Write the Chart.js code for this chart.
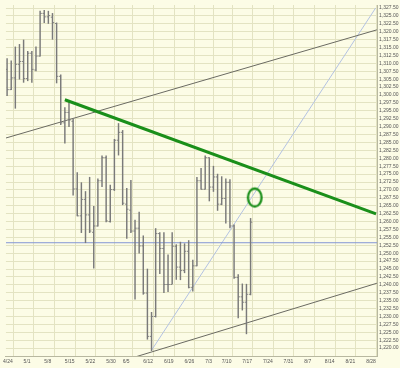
<!DOCTYPE html>
<html>
<head>
<meta charset="utf-8">
<script src="https://cdn.jsdelivr.net/npm/chart.js@4.4.1/dist/chart.umd.min.js"></script>
<style>
  html, body { margin: 0; padding: 0; background: #fcfce6; }
  #wrap { width: 400px; height: 368px; }
  canvas { display: block; background: #fcfce6; }
</style>
</head>
<body>
<div id="wrap"><canvas id="chart" width="400" height="368"></canvas></div>
<script>
// trading days from 4/24 (index 0) to 7/19 (index 60)
const opens  = [1311.3, 1308.1, 1301.7, 1305.4, 1309.7, 1310.6, 1305.2, 1313.2, 1307.9, 1312.3,
                1325.8, 1324.7, 1324.6, 1322.6, 1305.9, 1291.2, 1294.5, 1291.7, 1270.3, 1261.8,
                1267.0, 1262.1, 1256.6, 1258.6, 1272.9, 1280.2, 1260.0, 1270.1, 1285.7, 1288.2,
                1265.5, 1263.6, 1257.0, 1257.9, 1252.3, 1237.4, 1223.7, 1230.0, 1256.2, 1251.5,
                1240.1, 1240.1, 1252.2, 1245.6, 1244.5, 1250.6, 1239.2, 1246.0, 1272.9, 1270.2,
                1280.2, 1270.9, 1274.1, 1265.5, 1267.3, 1272.4, 1258.6, 1242.3, 1236.2, 1234.5,
                1237.0];
const highs  = [1311.3, 1311.5, 1310.8, 1315.2, 1316.0, 1317.4, 1313.8, 1313.8, 1315.2, 1326.5,
                1326.8, 1326.5, 1325.8, 1322.8, 1306.4, 1296.0, 1297.9, 1292.5, 1275.5, 1272.3,
                1269.5, 1274.0, 1264.8, 1273.5, 1280.8, 1280.8, 1271.5, 1286.0, 1291.0, 1288.8,
                1270.5, 1273.0, 1260.5, 1263.0, 1255.5, 1245.0, 1231.3, 1257.8, 1256.5, 1256.5,
                1249.5, 1256.5, 1252.7, 1253.5, 1253.0, 1254.0, 1247.8, 1274.0, 1276.8, 1280.8,
                1280.2, 1277.5, 1275.0, 1274.2, 1273.5, 1273.3, 1259.0, 1243.2, 1240.3, 1240.2,
                1261.0];
const lows   = [1303.8, 1299.8, 1301.7, 1295.8, 1305.0, 1304.0, 1304.5, 1304.0, 1307.6, 1312.3,
                1322.9, 1322.6, 1317.6, 1303.8, 1290.6, 1284.8, 1290.0, 1268.3, 1261.8, 1256.5,
                1253.3, 1256.5, 1245.3, 1258.5, 1271.0, 1259.9, 1259.8, 1269.8, 1281.0, 1265.3,
                1254.7, 1256.5, 1235.5, 1250.0, 1237.0, 1222.8, 1219.2, 1229.8, 1243.5, 1237.5,
                1237.8, 1240.3, 1241.7, 1241.6, 1243.8, 1239.0, 1238.0, 1246.0, 1270.2, 1270.2,
                1266.5, 1269.5, 1263.5, 1265.3, 1259.5, 1258.0, 1242.0, 1229.5, 1232.0, 1224.5,
                1236.8];
const closes = [1308.1, 1301.7, 1305.4, 1309.7, 1310.6, 1305.2, 1313.2, 1308.1, 1312.3, 1325.8,
                1324.7, 1325.1, 1322.9, 1305.9, 1291.2, 1294.5, 1292.1, 1270.3, 1261.8, 1267.0,
                1262.1, 1257.0, 1258.6, 1272.9, 1280.2, 1260.2, 1270.1, 1285.7, 1288.2, 1265.8,
                1263.9, 1257.0, 1257.9, 1252.3, 1237.4, 1223.7, 1230.0, 1256.2, 1251.5, 1240.1,
                1240.1, 1252.2, 1245.6, 1244.5, 1250.6, 1239.2, 1246.0, 1272.9, 1270.2, 1280.2,
                1270.9, 1274.1, 1265.5, 1267.3, 1272.4, 1258.6, 1242.3, 1236.2, 1234.5, 1237.0,
                1259.8];

// week labels on the date axis (trading-day index)
const xTickIdx    = [0, 5, 10, 15, 20, 25, 29, 34, 39, 44, 49, 53, 58, 63, 68, 73, 78, 83, 88];
const xTickLabels = ['4/24', '5/1', '5/8', '5/15', '5/22', '5/30', '6/5', '6/12', '6/19', '6/26',
                     '7/3', '7/10', '7/17', '7/24', '7/31', '8/7', '8/14', '8/21', '8/28'];

// drawn lines as [index, price] end points
const greenX = [15, 90.4],   greenY = [1298.5, 1262.4];
const upperX = [0.7, 90.6],  upperY = [1286.4, 1320.6];
const lowerX = [31.3, 90.6], lowerY = [1216.9, 1240.5];
const diagX  = [36, 90.3],   diagY  = [1219.3, 1327.5];
const flatX  = [0, 91],      flatY  = [1253.3, 1253.3];
const circleX = [61.0], circleY = [1267.6];

const X_MIN = 0.72, X_MAX = 90.63;
const Y_MIN = 1217.5, Y_MAX = 1328.45;
const yTicks = [];
for (let v = 1220; v <= 1327.5; v += 2.5) yTicks.push(v);

const BAR = '#7a7a7a';
const pts = (xs, ys) => xs.map((x, i) => ({ x, y: ys[i] }));

function ellipseStyle() {
  const c = document.createElement('canvas');
  c.width = 20; c.height = 24;
  const g = c.getContext('2d');
  g.strokeStyle = '#1a8f1a';
  g.lineWidth = 2.3;
  g.beginPath();
  g.ellipse(10, 12, 6.8, 9, 0, 0, Math.PI * 2);
  g.stroke();
  return c;
}

const lineSet = (data, color, width, order) => ({
  type: 'line', data, borderColor: color, borderWidth: width,
  pointRadius: 0, fill: false, tension: 0, order
});

new Chart(document.getElementById('chart'), {
  type: 'bar',
  data: {
    datasets: [
      {
        type: 'bar',
        data: highs.map((h, i) => ({ x: i, y: [lows[i], h] })),
        backgroundColor: BAR, borderWidth: 0, barThickness: 0.8, order: 3
      },
      {
        type: 'scatter',
        data: opens.map((o, i) => ({ x: i - 0.2, y: o })),
        pointStyle: 'line', pointRadius: 0.9, borderColor: BAR, borderWidth: 0.9, order: 3
      },
      {
        type: 'scatter',
        data: closes.map((c, i) => ({ x: i + 0.2, y: c })),
        pointStyle: 'line', pointRadius: 0.9, borderColor: BAR, borderWidth: 0.9, order: 3
      },
      lineSet(pts(flatX, flatY), '#8395d6', 1, 5),
      lineSet(pts(diagX, diagY), '#b3c2e2', 1, 5),
      lineSet(pts(upperX, upperY), '#6a6a62', 1, 4),
      lineSet(pts(lowerX, lowerY), '#6a6a62', 1, 4),
      lineSet(pts(greenX, greenY), '#1a8f1a', 3, 1),
      {
        type: 'scatter',
        data: pts(circleX, circleY),
        pointStyle: ellipseStyle(), order: 0
      }
    ]
  },
  options: {
    responsive: false,
    animation: false,
    events: [],
    layout: { padding: 0 },
    plugins: { legend: { display: false }, tooltip: { enabled: false } },
    scales: {
      x: {
        type: 'linear', min: X_MIN, max: X_MAX, offset: false,
        afterBuildTicks: s => { s.ticks = xTickIdx.map(v => ({ value: v })); },
        afterFit: s => { s.height = 12; },
        ticks: {
          autoSkip: false, maxRotation: 0, align: 'start', padding: 3,
          color: '#555', font: { family: 'Liberation Sans', size: 5 },
          callback: (v, i) => xTickLabels[i]
        },
        grid: { color: '#e3e3c2', drawTicks: false },
        border: { display: true, color: '#b8b8a0' }
      },
      y: {
        type: 'linear', position: 'right', min: Y_MIN, max: Y_MAX,
        afterBuildTicks: s => { s.ticks = yTicks.map(v => ({ value: v })); },
        afterFit: s => { s.width = 23; },
        ticks: {
          autoSkip: false, padding: 2,
          color: '#555', font: { family: 'Liberation Sans', size: 5 },
          callback: v => v.toLocaleString('en-US', { minimumFractionDigits: 2, maximumFractionDigits: 2 })
        },
        grid: { color: '#e3e3c2', drawTicks: false },
        border: { display: true, color: '#b8b8a0' }
      }
    }
  }
});
</script>
</body>
</html>
